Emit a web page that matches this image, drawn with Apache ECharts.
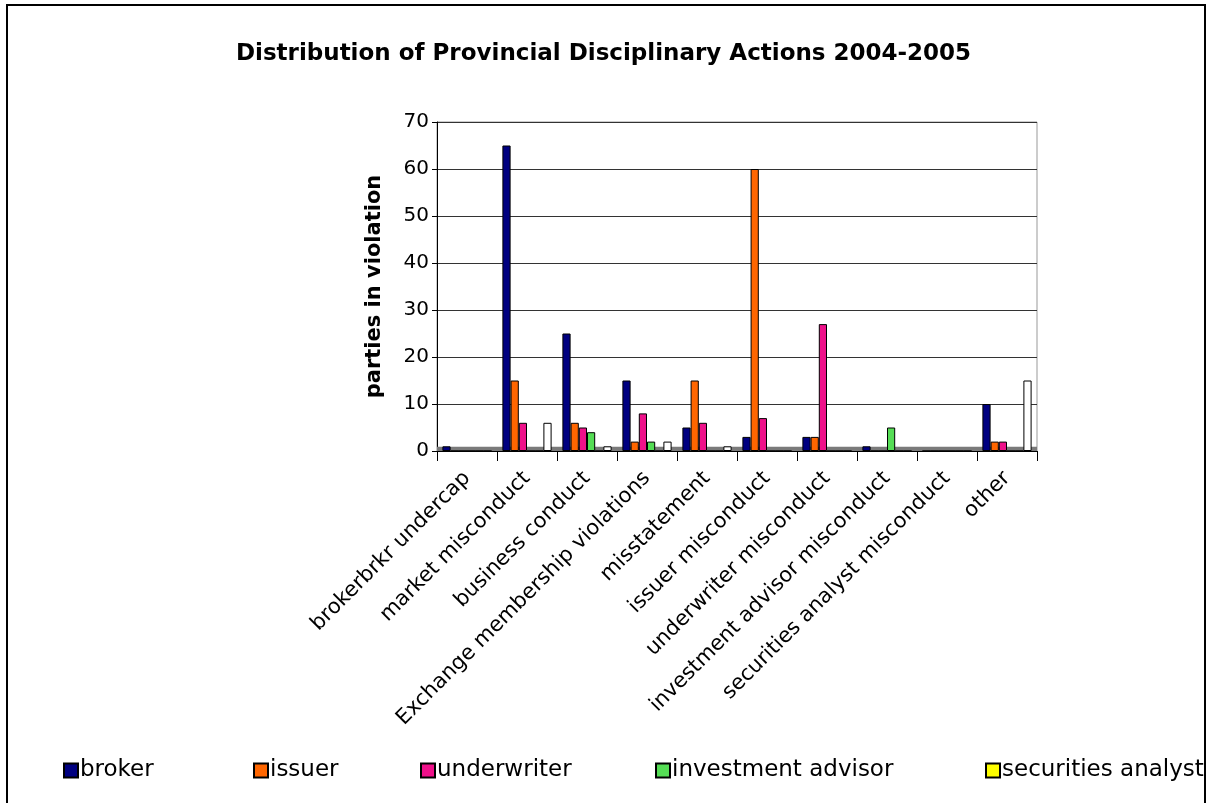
<!DOCTYPE html>
<html>
<head>
<meta charset="utf-8">
<script src="https://cdn.jsdelivr.net/npm/echarts@6/dist/echarts.min.js"></script>
<style>
html,body{margin:0;padding:0;width:1207px;height:803px;overflow:hidden;background:#fff;}
#frame{position:absolute;left:6px;top:4px;width:1200px;height:840px;border:2px solid #000;box-sizing:border-box;}
#chart{position:absolute;left:0;top:0;width:1207px;height:803px;}
</style>
</head>
<body>
<div id="frame"></div>
<div id="chart"></div>
<script>
const categories = ["brokerbrkr undercap","market misconduct","business conduct","Exchange membership violations","misstatement","issuer misconduct","underwriter misconduct","investment advisor misconduct","securities analyst misconduct","other"];
const broker = [1,65,25,15,5,3,3,1,0,10];
const issuer = [0,15,6,2,15,60,3,0,0,2];
const underwriter = [0,6,5,8,6,7,27,0,0,2];
const investmentAdvisor = [0,0,4,2,0,0,0,5,0,0];
const securitiesAnalyst = [0,0,0,0,0,0,0,0,0,0];
const otherParty = [0,6,1,2,1,0,0,0,0,15];
const yTicks = {min:0,max:70,interval:10};
const seriesNames = ["broker","issuer","underwriter","investment advisor","securities analyst","other party"];
const seriesData = [broker,issuer,underwriter,investmentAdvisor,securitiesAnalyst,otherParty];
const colors = ["#000080","#FF6600","#EE118A","#55DD55","#FFFF00","#FFFFFF"];
const legendLefts = [58,248,415,650,980];
const FONT = "DejaVu Sans";

const chart = echarts.init(document.getElementById('chart'));
const series = seriesData.map((d,i)=>({
  name: seriesNames[i],
  type:'bar',
  data:d,
  barGap:'0%',
  barCategoryGap:'18%',
  itemStyle:{color:colors[i],borderColor:'#000',borderWidth:1},
  emphasis:{disabled:true},
  z:3
}));
series[0].markArea = {
  silent:true,
  itemStyle:{color:'#7a7a7a',opacity:1},
  data:[[{yAxis:0},{yAxis:0.9}]]
};
const legends = legendLefts.map((l,i)=>({
  data:[seriesNames[i]],
  left:l, top:754,
  itemWidth:14, itemHeight:14,
  icon:'rect',
  selectedMode:false,
  textStyle:{fontFamily:FONT,fontSize:23,color:'#000',padding:[0,0,0,-3]}
}));
chart.setOption({
  animation:false,
  color:colors,
  title:{
    text:"Distribution of Provincial Disciplinary Actions 2004-2005",
    left:'center', top:38,
    textStyle:{fontFamily:FONT,fontSize:23,fontWeight:'bold',color:'#000'}
  },
  legend:legends,
  grid:{left:437,right:170,top:122,bottom:352,show:true,borderColor:'#999',borderWidth:1,backgroundColor:'transparent'},
  xAxis:{
    type:'category',
    data:categories,
    axisLine:{lineStyle:{color:'#000'}},
    axisTick:{show:true,length:10,lineStyle:{color:'#000'}},
    axisLabel:{interval:0,rotate:45,margin:24,fontFamily:FONT,fontSize:21,color:'#000'}
  },
  yAxis:{
    type:'value',
    min:yTicks.min,max:yTicks.max,interval:yTicks.interval,
    name:'parties in violation',
    nameLocation:'middle',nameRotate:90,nameGap:52,
    nameTextStyle:{fontFamily:FONT,fontSize:21,fontWeight:'bold',color:'#000'},
    axisLine:{show:true,lineStyle:{color:'#000'}},
    axisTick:{show:true,length:5,lineStyle:{color:'#000'}},
    axisLabel:{fontFamily:FONT,fontSize:20,color:'#000',margin:8},
    splitLine:{lineStyle:{color:'#333',width:1}}
  },
  series:series
});
</script>
</body>
</html>
